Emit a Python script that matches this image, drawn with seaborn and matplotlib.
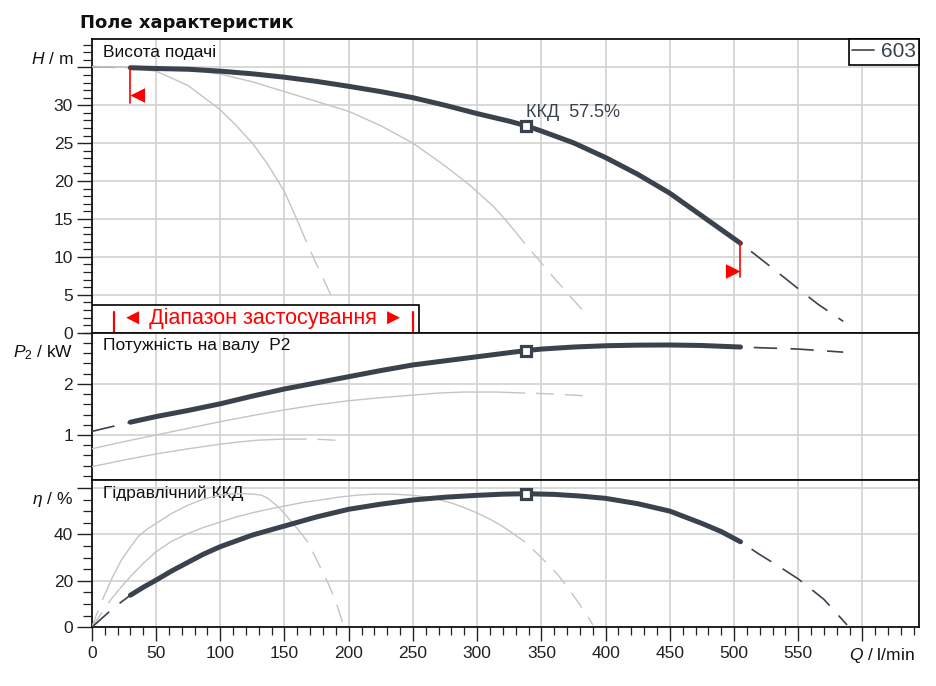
"""
Pump characteristic field (H, P2, eta vs Q), redrawn with seaborn
"""
import pandas as pd
import seaborn as sns
import matplotlib.pyplot as plt
from matplotlib.lines import Line2D
from matplotlib.patches import Rectangle
from matplotlib.path import Path
from matplotlib.ticker import MultipleLocator

# ---- values ----
# head, m
q_h_main = [0, 30, 50, 75, 100, 125, 150, 175, 200, 225, 250, 275, 300, 325, 338, 350, 375, 400, 425,
            450, 475, 490, 505, 515, 530, 550, 565, 585]
h_main = [35.1, 34.95, 34.85, 34.75, 34.5, 34.15, 33.7, 33.15, 32.5, 31.8, 31.0, 30.0, 28.9, 27.9, 27.3,
          26.6, 25.05, 23.1, 20.9, 18.4, 15.4, 13.6, 11.8, 10.5, 8.5, 5.8, 3.8, 1.5]
q_h_a = [0, 25, 50, 75, 100, 112, 125, 137, 150, 160, 167, 175, 183, 190]
h_a = [35.1, 35.0, 34.5, 32.6, 29.4, 27.4, 25.0, 22.2, 18.6, 14.8, 12.0, 9.0, 6.1, 3.5]
q_h_b = [0, 50, 75, 100, 125, 150, 175, 200, 225, 250, 275, 294, 313, 325, 337, 350, 361, 373, 385]
h_b = [35.1, 35.0, 34.7, 34.1, 33.1, 31.8, 30.5, 29.2, 27.3, 25.0, 22.0, 19.5, 16.6, 14.3, 11.8, 9.2,
       7.0, 4.7, 2.4]

# shaft power P2, kW
q_p_main = [0, 30, 50, 75, 100, 125, 150, 175, 200, 225, 250, 275, 300, 325, 338, 350, 375, 400, 425,
            450, 475, 505, 550, 585]
p_main = [1.07, 1.25, 1.36, 1.48, 1.61, 1.76, 1.90, 2.02, 2.14, 2.26, 2.37, 2.45, 2.53, 2.61, 2.65, 2.68,
          2.72, 2.745, 2.757, 2.76, 2.75, 2.72, 2.68, 2.62]
q_p_a = [0, 25, 50, 75, 100, 115, 130, 150, 167, 181, 194]
p_a = [0.38, 0.51, 0.63, 0.73, 0.82, 0.865, 0.90, 0.92, 0.92, 0.91, 0.89]
q_p_b = [0, 25, 50, 75, 100, 125, 150, 175, 200, 225, 250, 270, 290, 315, 337, 351, 374, 390]
p_b = [0.73, 0.87, 1.00, 1.13, 1.26, 1.38, 1.49, 1.59, 1.67, 1.73, 1.78, 1.82, 1.84, 1.84, 1.82, 1.81,
       1.78, 1.76]

# hydraulic efficiency, %
q_e_main = [0, 17, 30, 40, 50, 62, 75, 87, 100, 125, 150, 175, 200, 225, 250, 275, 300, 320, 338, 360,
            380, 400, 425, 450, 475, 490, 505, 520, 535, 550, 570, 588]
e_main = [0, 8.4, 13.8, 17.2, 20.3, 24.2, 28.0, 31.5, 34.7, 39.7, 43.6, 47.5, 50.8, 53.0, 54.8, 56.0,
          56.8, 57.3, 57.5, 57.2, 56.5, 55.5, 53.2, 50.0, 44.7, 41.2, 36.8, 31.3, 26.2, 20.8, 12.0, 1.0]
q_e_a = [0, 5, 10, 16, 23, 30, 36, 43, 50, 62, 75, 87, 100, 110, 119, 126, 132, 137, 142, 147, 152,
         160, 168, 176, 184, 190, 195, 198]
e_a = [0, 7.5, 14, 21.5, 28.9, 34.5, 39.0, 42.2, 44.7, 49.0, 52.6, 55.2, 56.9, 57.4, 57.5, 57.3, 56.9,
       55.5, 53.3, 50.8, 47.6, 42.5, 36.8, 28.0, 18.9, 11.0, 2.4, 0]
q_e_b = [0, 15, 22, 30, 40, 50, 62, 75, 87, 100, 113, 126, 139, 152, 165, 178, 192, 207, 220, 235, 250,
         260, 270, 280, 290, 300, 310, 318, 325, 337, 350, 363, 372, 385, 390]
e_b = [0, 12, 16.8, 21.8, 27.5, 32.5, 37.0, 40.4, 43.0, 45.3, 47.6, 49.4, 51.0, 52.4, 53.8, 54.8, 56.0,
       56.9, 57.3, 57.3, 56.8, 56.1, 55.0, 53.5, 51.5, 49.2, 46.5, 44.0, 41.5, 36.8, 30.0, 22.5, 16.0,
       5.7, 1.0]

# solid (working) part of each curve, l/min
solid_main = (30, 505)
solid_h_a, solid_h_b = (0, 167), (0, 337)
solid_p_a, solid_p_b = (0, 167), (0, 337)
solid_e_a, solid_e_b = (10, 168), (22, 337)

q_opt = 338
eff_label = "ККД  57.5%"
range_bar_q = [17, 250]
range_box_q = 255
limit_q = [30, 505]
limit_tick_bottom = [30.3, 7.3]
limit_arrow_h = [31.3, 8.2]

x_ticks = list(range(0, 650, 50))
x_labels = [str(v) if v < 600 else "" for v in x_ticks]

DARK = "#3a434d"
GRAY = "#c4c4c4"
RED = "#ff0000"
GRID = "#d2d2d2"

sns.set_theme(style="white", rc={"axes.edgecolor": "#111111", "xtick.color": "#222222",
                                 "ytick.color": "#222222", "text.color": "#111111"})
plt.rcParams["font.family"] = ["Liberation Sans", "DejaVu Sans"]
plt.rcParams["mathtext.fontset"] = "custom"
plt.rcParams["mathtext.rm"] = "Liberation Sans"
plt.rcParams["mathtext.it"] = "Liberation Sans:italic"

fig = plt.figure(figsize=(9.37, 6.86), dpi=100)
L, W = 0.098, 0.8828
ax_h = fig.add_axes([L, 0.515, W, 0.4277])
ax_p = fig.add_axes([L, 0.3003, W, 0.2147])
ax_e = fig.add_axes([L, 0.0856, W, 0.2147])


def draw_curve(ax, q, v, solid, color, lw, lw_dash, dash):
    df = pd.DataFrame({"q": q, "v": v})
    lo, hi = solid
    lead = df[df.q <= lo]
    mid = df[(df.q >= lo) & (df.q <= hi)]
    tail = df[df.q >= hi]
    if len(lead) > 1:
        sns.lineplot(data=lead, x="q", y="v", ax=ax, color=color, linewidth=lw_dash,
                     linestyle=(0, dash), estimator=None, zorder=3)
    if len(tail) > 1:
        sns.lineplot(data=tail, x="q", y="v", ax=ax, color=color, linewidth=lw_dash,
                     linestyle=(dash[0], dash), estimator=None, zorder=3)
    sns.lineplot(data=mid, x="q", y="v", ax=ax, color=color, linewidth=lw,
                 estimator=None, solid_capstyle="round", solid_joinstyle="round", zorder=4)
    ax.set(xlabel="", ylabel="")


gray_dash = (13, 8)
main_dash = (14, 8)
for ax, curves in [
    (ax_h, [(q_h_a, h_a, solid_h_a), (q_h_b, h_b, solid_h_b), (q_h_main, h_main, solid_main)]),
    (ax_p, [(q_p_a, p_a, solid_p_a), (q_p_b, p_b, solid_p_b), (q_p_main, p_main, solid_main)]),
    (ax_e, [(q_e_a, e_a, solid_e_a), (q_e_b, e_b, solid_e_b), (q_e_main, e_main, solid_main)]),
]:
    for i, (q, v, s) in enumerate(curves):
        if i < 2:
            draw_curve(ax, q, v, s, GRAY, 1.0, 1.0, gray_dash)
        else:
            draw_curve(ax, q, v, s, DARK, 3.6, 1.2, main_dash)
            v_opt = v[q.index(q_opt)]
            ax.plot([q_opt], [v_opt], marker="s", ms=7.5, mfc="white", mec=DARK, mew=2.3, zorder=6)

# ---- axes styling ----
for ax in (ax_h, ax_p, ax_e):
    ax.set_xlim(0, 644)
    ax.set_xticks(x_ticks)
    ax.xaxis.set_minor_locator(MultipleLocator(10))
    ax.grid(True, which="major", color=GRID, linewidth=1.2)
    ax.set_axisbelow(True)
    ax.tick_params(axis="y", which="major", length=10.5, width=1.0, pad=3, labelsize=12.5, left=True)
    ax.tick_params(axis="y", which="minor", length=6.5, width=0.9, left=True)
    for sp in ax.spines.values():
        sp.set_linewidth(1.3)

for ax in (ax_h, ax_p):
    ax.tick_params(axis="x", which="both", bottom=False, labelbottom=False)
ax_e.set_xticklabels(x_labels)
ax_e.tick_params(axis="x", which="major", length=10.3, width=1.0, pad=3, labelsize=12.5, bottom=True)
ax_e.tick_params(axis="x", which="minor", length=6.0, width=0.9, bottom=True)

ax_h.set_ylim(0, 38.7)
ax_h.set_yticks(range(0, 40, 5))
ax_h.set_yticklabels([str(v) if v < 35 else "" for v in range(0, 40, 5)])
ax_h.yaxis.set_minor_locator(MultipleLocator(1))

ax_p.set_ylim(0.12, 3.0)
ax_p.set_yticks([1, 2])
ax_p.set_yticklabels(["1", "2"])
ax_p.yaxis.set_minor_locator(MultipleLocator(0.2))

ax_e.set_ylim(0, 63.4)
ax_e.set_yticks([0, 20, 40, 60])
ax_e.set_yticklabels(["0", "20", "40", ""])
ax_e.yaxis.set_minor_locator(MultipleLocator(5))

# axis unit labels
for ax, txt, yv in [(ax_h, r"$H$ / m", 36.1), (ax_p, r"$P_2$ / kW", 2.61), (ax_e, r"$\eta$ / %", 54.8)]:
    ax.annotate(txt, xy=(0, yv), xycoords=("axes fraction", "data"), xytext=(-13.5, 0),
                textcoords="offset points", ha="right", va="center", fontsize=12.5)
ax_e.annotate(r"$Q$ / l/min", xy=(615, 0), xycoords=("data", "axes fraction"), xytext=(0, -13.3),
              textcoords="offset points", ha="center", va="top", fontsize=12.5)

# panel titles
for ax, txt in [(ax_h, "Висота подачі"), (ax_p, "Потужність на валу  P2"), (ax_e, "Гідравлічний ККД")]:
    ax.annotate(txt, xy=(0, 1), xycoords="axes fraction", xytext=(8, -12.8),
                textcoords="offset points", ha="left", va="baseline", fontsize=12.5)

fig.text(80 / 937, 1 - 28 / 686, "Поле характеристик", fontsize=13, fontweight="bold",
         family="DejaVu Sans", va="baseline", ha="left")

# efficiency label at duty point
ax_h.annotate(eff_label, xy=(q_opt, h_main[q_h_main.index(q_opt)]), xytext=(0, 9.7),
              textcoords="offset points", ha="left", va="center", fontsize=13, color=DARK)

# operating limits (red ticks with arrow heads)
tri_left = Path([(0, 0), (1, 0.5), (1, -0.5), (0, 0)])
tri_right = Path([(0, 0), (-1, 0.5), (-1, -0.5), (0, 0)])
for q, hb, ha_, mk in zip(limit_q, limit_tick_bottom, limit_arrow_h, [tri_left, tri_right]):
    h_top = h_main[q_h_main.index(q)]
    ax_h.plot([q, q], [h_top, hb], color=RED, lw=1.2, zorder=5)
    ax_h.plot([q], [ha_], marker=mk, ms=21, color=RED, mew=0, zorder=5)

# application range box
ax_h.add_patch(Rectangle((0, 0), range_box_q, 3.65, facecolor="white", edgecolor="black",
                         lw=1.2, zorder=7))
for q in range_bar_q:
    ax_h.plot([q, q], [0, 2.75], color=RED, lw=1.6, zorder=8, clip_on=False)
ax_h.text(sum(range_bar_q) / 2, 1.9, "◄ Діапазон застосування ►", color=RED, fontsize=15.5,
          ha="center", va="center", zorder=8, family=["Liberation Sans", "DejaVu Sans"])

# legend
leg = ax_h.legend(handles=[Line2D([], [], color=DARK, lw=1.2)], labels=["603"], loc="upper right",
                  frameon=True, fancybox=False, edgecolor="black", borderaxespad=0,
                  handlelength=1.05, handletextpad=0.35, borderpad=0.15, fontsize=15)
leg.get_frame().set_linewidth(1.2)
leg.get_frame().set_alpha(1)
for t in leg.get_texts():
    t.set_color(DARK)

fig.savefig("out.png", dpi=100)
